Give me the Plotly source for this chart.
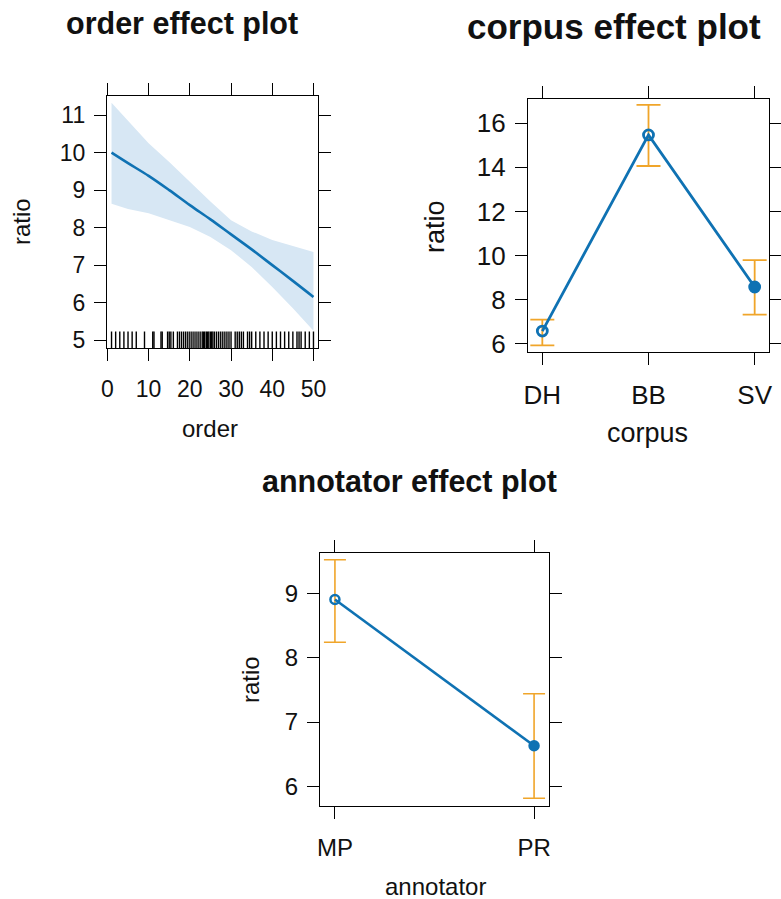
import plotly.graph_objects as go

# ---------------- data ----------------
order_x = [1, 5, 10, 15, 20, 25, 30, 35, 40, 45, 50]
order_fit = [10.0, 9.72, 9.38, 9.0, 8.6, 8.22, 7.82, 7.42, 7.0, 6.58, 6.15]
order_upper = [11.33, 10.85, 10.25, 9.75, 9.22, 8.7, 8.2, 7.9, 7.67, 7.5, 7.35]
order_lower = [8.64, 8.5, 8.38, 8.2, 8.02, 7.75, 7.4, 6.95, 6.42, 5.85, 5.25]
order_rug = [1, 2, 3, 4, 5, 6, 7, 9, 11, 11.3, 13, 13.3, 14.6, 15, 15.4, 16, 17, 17.5,
             18, 18.5, 19, 19.5, 20, 20.5, 21, 21.5, 22, 22.5, 23, 23.3, 23.6, 24,
             24.3, 24.6, 25, 25.3, 25.6, 26, 26.5, 27, 27.5, 28, 28.5, 29, 29.5, 30,
             31, 31.5, 32, 32.5, 33, 34, 34.5, 35, 36, 37, 38, 39, 40, 41, 42, 43,
             44, 45, 46, 46.5, 47, 48, 49, 50]

corpus_cat = ["DH", "BB", "SV"]
corpus_fit = [6.57, 15.47, 8.57]
corpus_lower = [5.92, 14.06, 7.32]
corpus_upper = [7.09, 16.83, 9.79]

annot_cat = ["MP", "PR"]
annot_fit = [8.91, 6.63]
annot_lower = [8.245, 5.81]
annot_upper = [9.53, 7.44]

# ---------------- styles ----------------
W, H = 781, 899
BLUE = "#0F72B3"
ORANGE = "#F0A52A"
BAND = "#D7E7F4"
FONT = "Liberation Sans, Arial, sans-serif"


def px_x(a, b):
    return [a / W, b / W]


def px_y(top, bottom):
    return [1 - bottom / H, 1 - top / H]


fig = go.Figure()

# ---- panel 1: order ----
fig.add_trace(go.Scatter(x=order_x, y=order_upper, mode="lines", line=dict(width=0),
                         hoverinfo="skip", showlegend=False, xaxis="x", yaxis="y"))
fig.add_trace(go.Scatter(x=order_x, y=order_lower, mode="lines", line=dict(width=0),
                         fill="tonexty", fillcolor=BAND, hoverinfo="skip",
                         showlegend=False, xaxis="x", yaxis="y"))
fig.add_trace(go.Scatter(x=order_x, y=order_fit, mode="lines",
                         line=dict(color=BLUE, width=2.6, shape="spline"),
                         showlegend=False, xaxis="x", yaxis="y"))
Y1 = [4.79, 11.51]
rug_top = Y1[0] + 0.44
rx, ry = [], []
for v in order_rug:
    rx += [v, v, None]
    ry += [Y1[0], rug_top, None]
fig.add_trace(go.Scatter(x=rx, y=ry, mode="lines", line=dict(color="black", width=1.4),
                         showlegend=False, hoverinfo="skip", xaxis="x", yaxis="y"))

# ---- panel 2: corpus ----
fig.add_trace(go.Scatter(
    x=corpus_cat, y=corpus_fit, mode="lines+markers",
    line=dict(color=BLUE, width=2.8),
    marker=dict(color=BLUE, size=10, symbol=["circle-open", "circle-open", "circle"],
                line=dict(color=BLUE, width=2.8)),
    error_y=dict(type="data", symmetric=False,
                 array=[u - f for u, f in zip(corpus_upper, corpus_fit)],
                 arrayminus=[f - l for l, f in zip(corpus_lower, corpus_fit)],
                 color=ORANGE, thickness=1.8, width=12),
    showlegend=False, xaxis="x2", yaxis="y2"))

# ---- panel 3: annotator ----
fig.add_trace(go.Scatter(
    x=annot_cat, y=annot_fit, mode="lines+markers",
    line=dict(color=BLUE, width=2.6),
    marker=dict(color=BLUE, size=9, symbol=["circle-open", "circle"],
                line=dict(color=BLUE, width=2.5)),
    error_y=dict(type="data", symmetric=False,
                 array=[u - f for u, f in zip(annot_upper, annot_fit)],
                 arrayminus=[f - l for l, f in zip(annot_lower, annot_fit)],
                 color=ORANGE, thickness=1.6, width=11),
    showlegend=False, xaxis="x3", yaxis="y3"))


def axis_style(size):
    return dict(showline=True, linecolor="black", linewidth=1.3, mirror="ticks",
                ticks="outside", ticklen=12, tickwidth=1.3, tickcolor="black",
                showgrid=False, zeroline=False, automargin=False,
                tickfont=dict(family=FONT, size=size, color="#111111"))


fig.update_layout(
    width=W, height=H, margin=dict(l=0, r=0, t=0, b=0, autoexpand=False),
    paper_bgcolor="white", plot_bgcolor="white",
    font=dict(family=FONT, color="#111111"),
    xaxis=dict(domain=px_x(107, 318), range=[-0.1, 51.1], tickvals=[0, 10, 20, 30, 40, 50],
               anchor="y", ticklabelstandoff=8, **axis_style(23)),
    yaxis=dict(domain=px_y(96, 348), range=Y1, tickvals=[5, 6, 7, 8, 9, 10, 11],
               anchor="x", ticklabelstandoff=4, **axis_style(23)),
    xaxis2=dict(domain=px_x(528, 769), range=[-0.135, 2.135], type="category",
                categoryorder="array", categoryarray=corpus_cat,
                anchor="y2", ticklabelstandoff=8, **axis_style(26)),
    yaxis2=dict(domain=px_y(99, 352), range=[5.62, 17.1], tickvals=[6, 8, 10, 12, 14, 16],
                anchor="x2", ticklabelstandoff=4, **axis_style(26)),
    xaxis3=dict(domain=px_x(320, 549), range=[-0.075, 1.075], type="category",
                categoryorder="array", categoryarray=annot_cat,
                anchor="y3", ticklabelstandoff=8, **axis_style(24)),
    yaxis3=dict(domain=px_y(553, 806), range=[5.69, 9.636], tickvals=[6, 7, 8, 9],
                anchor="x3", ticklabelstandoff=4, **axis_style(24)),
)


def ann(text, x, y, size, bold=False, angle=0):
    fig.add_annotation(text=f"<b>{text}</b>" if bold else text,
                       x=x / W, y=1 - y / H, xref="paper", yref="paper",
                       showarrow=False, textangle=angle,
                       font=dict(family=FONT, size=size, color="#111111"),
                       xanchor="center", yanchor="middle")


ann("order effect plot", 182, 23, 30.5, bold=True)
ann("corpus effect plot", 614, 27, 35, bold=True)
ann("annotator effect plot", 410, 481, 30.5, bold=True)

ann("ratio", 22, 222, 24, angle=-90)
ann("order", 210, 429, 24)
ann("ratio", 435, 227, 27, angle=-90)
ann("corpus", 647, 433, 27)
ann("ratio", 250, 680, 24, angle=-90)
ann("annotator", 435, 886, 24)

fig.write_html("out.html",
               config={"responsive": False, "displayModeBar": False},
               post_script="document.body.style.margin='0';document.body.style.overflow='hidden';")
